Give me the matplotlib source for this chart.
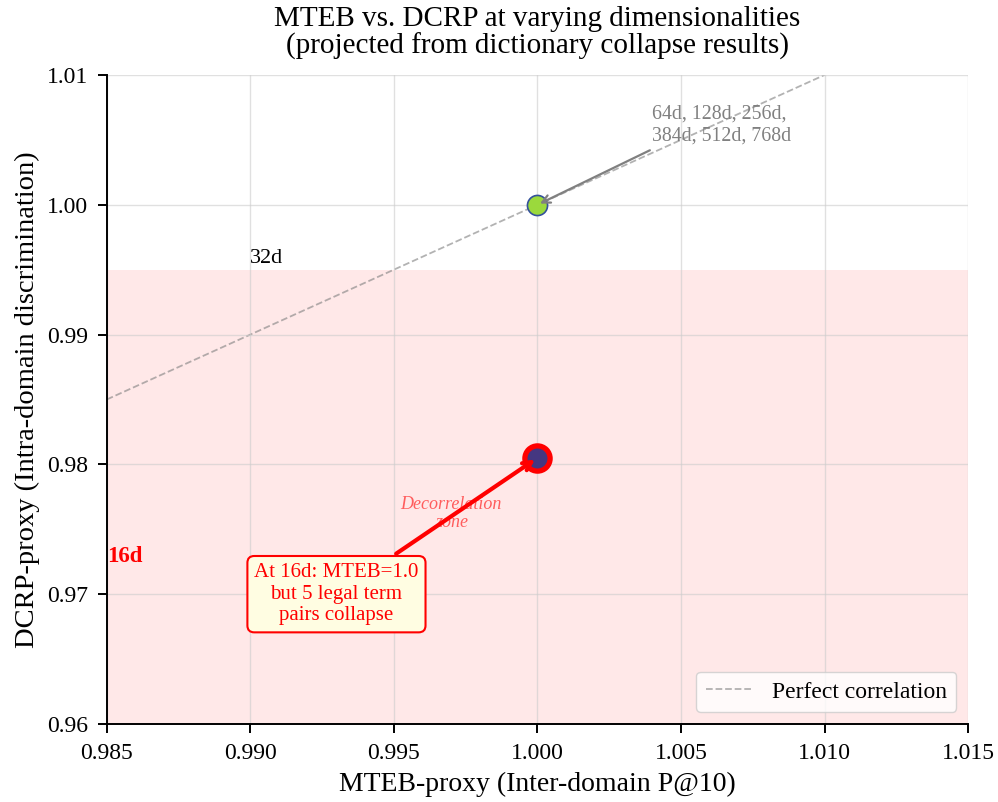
import numpy as np
import matplotlib
matplotlib.use("Agg")
import matplotlib.pyplot as plt

plt.rcParams["font.family"] = ["Liberation Serif", "DejaVu Serif"]

# data
dims = ["16d", "64d+"]
mteb = [1.0, 1.0]
dcrp = [0.9805, 1.0]
point_colors = ["#453781", "#9bd93c"]
diag = [0.985, 1.01]
shade_top = 0.995

fig, ax = plt.subplots(figsize=(9.98, 8.02), dpi=100)
fig.subplots_adjust(left=0.107, right=0.97, top=0.9065, bottom=0.0973)

ax.axhspan(0.955, shade_top, color="red", alpha=0.09, lw=0, zorder=0)
ax.plot(diag, diag, ls="--", color="gray", alpha=0.6, lw=1.3, label="Perfect correlation", zorder=1)

ax.scatter(mteb[1], dcrp[1], s=210, c=point_colors[1], edgecolors="#34519b", linewidths=1.2, zorder=4)
ax.scatter(mteb[0], dcrp[0], s=330, c=point_colors[0], edgecolors="red", linewidths=3.8, zorder=4)

ax.annotate("64d, 128d, 256d,\n384d, 512d, 768d", xy=(mteb[1], dcrp[1]), xytext=(1.0040, 1.0046),
            fontsize=14.3, color="gray", ha="left", va="bottom", zorder=5,
            arrowprops=dict(arrowstyle="->", color="gray", lw=1.6, relpos=(0.06, 0.0), shrinkA=4))
ax.text(0.990, 0.9951, "32d", fontsize=16, ha="left", va="bottom")
ax.text(0.985, 0.9729, "16d", fontsize=16.5, color="red", fontweight="bold", ha="left", va="center")

ax.annotate("At 16d: MTEB=1.0\nbut 5 legal term\npairs collapse", xy=(mteb[0], dcrp[0]), xytext=(0.993, 0.970),
            fontsize=15, color="red", ha="center", va="center", zorder=5,
            bbox=dict(boxstyle="round,pad=0.33", facecolor="#fffde2", edgecolor="red", lw=1.5),
            arrowprops=dict(arrowstyle="->", color="red", lw=3))
ax.text(0.997, 0.9762, "Decorrelation\nzone", fontsize=13, color="red", alpha=0.6, style="italic",
        ha="center", va="center", linespacing=1.1)

ax.set_xlim(0.985, 1.015)
ax.set_ylim(0.96, 1.01)
ax.set_xticks(np.arange(0.985, 1.0151, 0.005))
ax.set_yticks(np.arange(0.96, 1.0101, 0.01))
ax.xaxis.set_major_formatter(matplotlib.ticker.FormatStrFormatter("%.3f"))
ax.yaxis.set_major_formatter(matplotlib.ticker.FormatStrFormatter("%.2f"))
ax.tick_params(labelsize=17, length=6.5, width=1.4, pad=7)
ax.grid(True, color="#cccccc", alpha=0.6, lw=1.0)
ax.spines["top"].set_visible(False)
ax.spines["right"].set_visible(False)
for s in ("left", "bottom"):
    ax.spines[s].set_linewidth(1.4)
ax.set_xlabel("MTEB-proxy (Inter-domain P@10)", fontsize=20, labelpad=6)
ax.set_ylabel("DCRP-proxy (Intra-domain discrimination)", fontsize=20.5, labelpad=5)
ax.set_title("MTEB vs. DCRP at varying dimensionalities\n(projected from dictionary collapse results)",
             fontsize=21, linespacing=1.05, pad=15)
ax.legend(loc="lower right", fontsize=17)

fig.savefig("out.png", dpi=100)
